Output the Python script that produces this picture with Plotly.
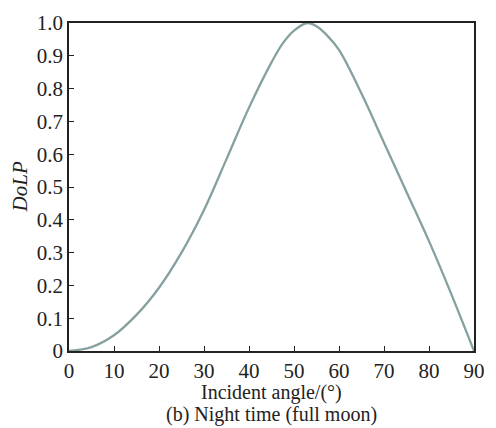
import plotly.graph_objects as go

angle = [0, 5, 10, 15, 20, 25, 30, 35, 40, 45, 47.5, 50, 53, 55, 57.5, 60, 65, 70, 75, 80, 85, 90]
dolp = [0.0, 0.012, 0.048, 0.11, 0.193, 0.30, 0.43, 0.585, 0.742, 0.88, 0.938, 0.977, 1.0, 0.99, 0.96, 0.918, 0.785, 0.635, 0.485, 0.335, 0.172, 0.0]

x_ticks = [0, 10, 20, 30, 40, 50, 60, 70, 80, 90]
y_ticks = [0, 0.1, 0.2, 0.3, 0.4, 0.5, 0.6, 0.7, 0.8, 0.9, 1.0]
y_tick_text = ["0", "0.1", "0.2", "0.3", "0.4", "0.5", "0.6", "0.7", "0.8", "0.9", "1.0"]

FONT = "Liberation Serif"

fig = go.Figure()
fig.add_trace(go.Scatter(
    x=angle, y=dolp, mode="lines",
    line=dict(color="#86a0a0", width=2.3, shape="spline", smoothing=1.0),
    showlegend=False, hoverinfo="skip",
))

fig.update_layout(
    width=496, height=428,
    margin=dict(l=69, r=11, t=21, b=77),
    paper_bgcolor="white", plot_bgcolor="white",
    font=dict(family=FONT, size=21, color="#222"),
    xaxis=dict(
        range=[0, 90], tickvals=x_ticks, ticks="inside", ticklen=5, tickwidth=1.2,
        tickcolor="#222", showline=True, linecolor="#222", linewidth=1.5,
        mirror=True, showgrid=False, zeroline=False,
        tickfont=dict(family=FONT, size=21, color="#222"),
    ),
    yaxis=dict(
        range=[0, 1.0], tickvals=y_ticks, ticktext=y_tick_text, ticks="inside",
        ticklen=5, tickwidth=1.2, tickcolor="#222", showline=True,
        linecolor="#222", linewidth=1.5, mirror=True, showgrid=False,
        zeroline=False, tickfont=dict(family=FONT, size=21, color="#222"),
    ),
    annotations=[
        dict(text="Incident angle/(°)", xref="paper", yref="paper", x=0.5, y=-0.127,
             xanchor="center", yanchor="middle", showarrow=False,
             font=dict(family=FONT, size=20, color="#222")),
        dict(text="(b) Night time (full moon)", xref="paper", yref="paper", x=0.5, y=-0.194,
             xanchor="center", yanchor="middle", showarrow=False,
             font=dict(family=FONT, size=20, color="#222")),
        dict(text="<i>DoLP</i>", xref="paper", yref="paper", x=-0.12, y=0.5,
             xanchor="center", yanchor="middle", showarrow=False, textangle=-90,
             font=dict(family=FONT, size=21, color="#222")),
    ],
)

fig.write_html("out.html")
